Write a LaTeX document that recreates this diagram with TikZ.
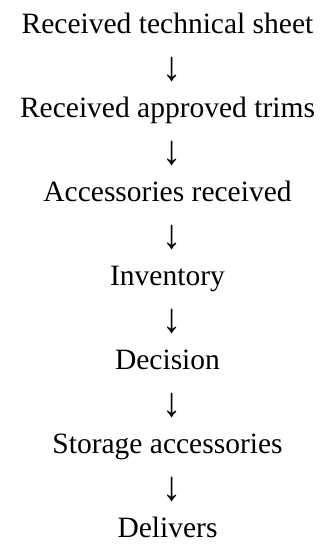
\documentclass[tikz,border=0pt]{standalone}
\usepackage{fontspec}
\setmainfont{Liberation Serif}
\begin{document}
\begin{tikzpicture}[x=1bp,y=1bp,
  lbl/.style={inner sep=0pt,anchor=base,font=\fontsize{29.5bp}{35bp}\selectfont},
  arr/.style={inner sep=0pt,anchor=center,font=\fontsize{29.5bp}{35bp}\selectfont}]
\useasboundingbox (0,0) rectangle (335,545);
\newcommand{\dnarrow}{\scalebox{1.3}[1.4]{↓}}
\node[lbl] (t1) at (167.5,511) {Received technical sheet};
\node[arr] (a1) at (172,475) {\dnarrow};
\node[lbl] (t2) at (167.5,427) {Received approved trims};
\node[arr] (a2) at (172,391) {\dnarrow};
\node[lbl] (t3) at (167.5,343) {Accessories received};
\node[arr] (a3) at (172,307) {\dnarrow};
\node[lbl] (t4) at (167.5,259) {Inventory};
\node[arr] (a4) at (172,223) {\dnarrow};
\node[lbl] (t5) at (167.5,175) {Decision};
\node[arr] (a5) at (172,139) {\dnarrow};
\node[lbl] (t6) at (167.5,91) {Storage accessories};
\node[arr] (a6) at (172,55) {\dnarrow};
\node[lbl] (t7) at (167.5,7) {Delivers};
\end{tikzpicture}
\end{document}
